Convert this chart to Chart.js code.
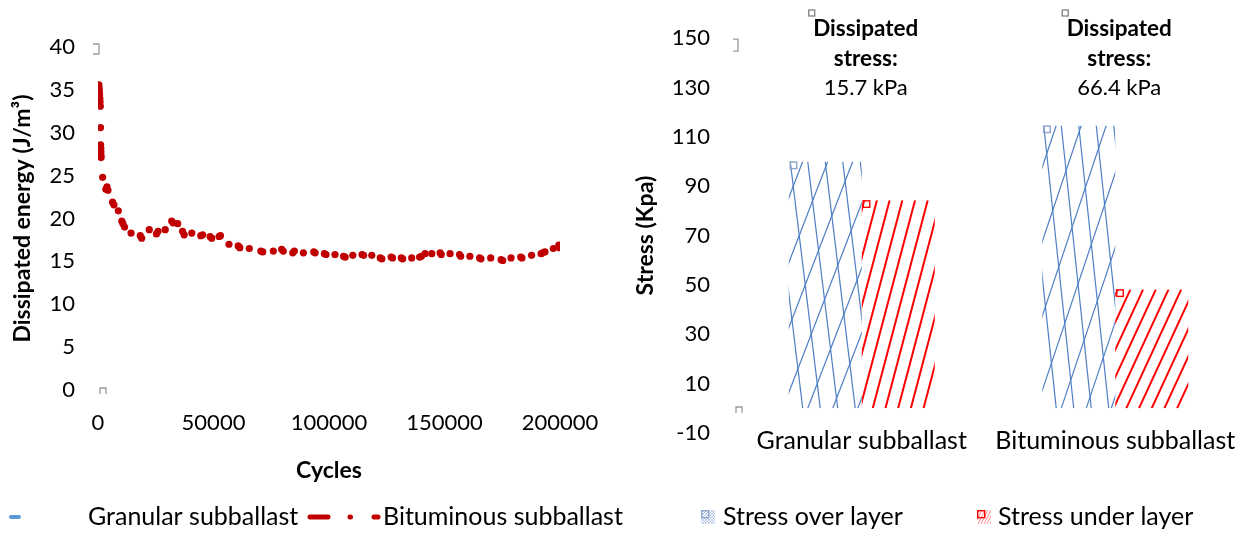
<!DOCTYPE html>
<html>
<head>
<meta charset="utf-8">
<script src="https://cdn.jsdelivr.net/npm/chart.js@4"></script>
<style>
html, body { margin: 0; padding: 0; background: #fff; }
body { width: 1245px; height: 533px; position: relative; overflow: hidden; }
#energyChart { position: absolute; left: 0; top: 0; width: 640px; height: 533px; }
#stressChart { position: absolute; left: 615px; top: 0; width: 630px; height: 533px; }
</style>
</head>
<body>
<canvas id="energyChart" width="640" height="533"></canvas>
<canvas id="stressChart" width="630" height="533"></canvas>
<script>
// left chart: dissipated energy per cycle
const cycles = [400, 500, 600, 700, 800, 900, 1000, 1100, 1150, 1200, 1250, 1300, 1350,
  2000, 3400, 3900, 4300, 6300, 6900, 8800, 10300, 10800, 11500, 14300, 18300, 18900,
  22200, 25300, 26000, 29100, 31900, 32500, 34500, 36600, 37300, 40600, 44500, 45300,
  48500, 49200, 52400, 53000, 56700, 60700, 61400, 65500, 70500, 71300, 75900, 79500,
  80200, 84300, 85000, 88900, 93400, 94000, 98000, 98700, 102600, 106300, 107000, 110300,
  114300, 115000, 118500, 122200, 122900, 126900, 127500, 131300, 131900, 135800, 139200,
  140000, 141600, 144500, 148100, 148600, 152400, 156500, 157000, 161000, 165200, 165800,
  170000, 174500, 175200, 178800, 183000, 183500, 187700, 191800, 192500, 193500, 197100,
  199500, 199800];
const bituminousEnergy = [35.6, 35.2, 34.8, 34.4, 34.0, 33.6, 33.1, 30.6, 28.6, 28.2, 27.8, 27.4, 27.1,
  24.8, 23.4, 23.7, 23.3, 21.9, 21.6, 20.9, 19.7, 19.4, 19.0, 18.3, 18.0, 17.7,
  18.7, 18.2, 18.5, 18.7, 19.7, 19.5, 19.4, 18.5, 18.1, 18.3, 18.0, 18.1,
  17.9, 17.7, 17.9, 18.0, 17.0, 16.8, 16.6, 16.5, 16.2, 16.1, 16.2, 16.4,
  16.2, 16.0, 16.2, 16.0, 16.1, 16.0, 15.9, 15.8, 15.8, 15.6, 15.5, 15.7,
  15.8, 15.7, 15.7, 15.4, 15.3, 15.5, 15.4, 15.4, 15.3, 15.4, 15.5,
  15.6, 15.9, 15.9, 16.0, 15.8, 15.9, 15.8, 15.6, 15.6, 15.4, 15.3,
  15.4, 15.2, 15.1, 15.4, 15.5, 15.4, 15.7, 15.9, 16.0, 16.1, 16.5,
  16.9, 16.6];
const granularEnergy = [];
const energyTicks = [0, 5, 10, 15, 20, 25, 30, 35, 40];
const cycleTicks = [0, 50000, 100000, 150000, 200000];

// right chart: stress over / under the subballast layer
const layers = ['Granular subballast', 'Bituminous subballast'];
const stressOver = [100.0, 114.6];
const stressUnder = [84.3, 48.2];
const stressTicks = [-10, 10, 30, 50, 70, 90, 110, 130, 150];

const FONT = 'Lato';
const TXT = '#000';
const tickFont = { family: FONT, size: 22 };
const titleFont = { family: FONT, size: 23, weight: 'bold' };

function bracket(ctx, pts) {
  ctx.beginPath();
  ctx.moveTo(pts[0][0], pts[0][1]);
  for (let k = 1; k < pts.length; k++) ctx.lineTo(pts[k][0], pts[k][1]);
  ctx.stroke();
}

const energyExtras = {
  id: 'energyExtras',
  afterDraw(chart) {
    const ctx = chart.ctx;
    const a = chart.chartArea;
    ctx.save();
    // little marker leftovers at the axis ends
    ctx.strokeStyle = '#9a9a9a';
    ctx.lineWidth = 1.3;
    bracket(ctx, [[a.left - 5, a.top - 3], [a.left + 1, a.top - 3], [a.left + 1, a.top + 7], [a.left - 5, a.top + 7]]);
    bracket(ctx, [[a.left + 2, a.bottom + 4], [a.left + 2, a.bottom - 2], [a.left + 8, a.bottom - 2], [a.left + 8, a.bottom + 4]]);

    // legend
    const ds = chart.data.datasets;
    const y = 517;
    ctx.font = '25px ' + FONT;
    ctx.textBaseline = 'middle';
    ctx.fillStyle = TXT;
    ctx.lineCap = 'round';
    ctx.strokeStyle = '#5b9bd5';
    ctx.lineWidth = 4;
    ctx.beginPath(); ctx.moveTo(11, y); ctx.lineTo(19, y); ctx.stroke();
    ctx.fillText(ds[0].label, 88, y);
    ctx.strokeStyle = '#c00000';
    ctx.lineWidth = 5;
    ctx.beginPath(); ctx.moveTo(310, y); ctx.lineTo(328, y); ctx.stroke();
    ctx.beginPath(); ctx.moveTo(350, y); ctx.lineTo(350.5, y); ctx.stroke();
    ctx.beginPath(); ctx.moveTo(374, y); ctx.lineTo(378, y); ctx.stroke();
    ctx.fillText(ds[1].label, 383, y);
    ctx.restore();
  }
};

new Chart(document.getElementById('energyChart'), {
  type: 'scatter',
  data: {
    datasets: [
      {
        label: 'Granular subballast',
        data: granularEnergy,
        backgroundColor: '#5b9bd5',
        pointRadius: 3.5,
        borderWidth: 0
      },
      {
        label: 'Bituminous subballast',
        data: cycles.map((c, i) => ({ x: c, y: bituminousEnergy[i] })),
        backgroundColor: '#c00000',
        pointRadius: 3.6,
        borderWidth: 0
      }
    ]
  },
  options: {
    responsive: false,
    animation: false,
    layout: { padding: { left: 0, right: 80, top: 47, bottom: 43 } },
    plugins: { legend: { display: false }, tooltip: { enabled: false } },
    scales: {
      x: {
        type: 'linear',
        min: 0,
        max: 200000,
        grid: { display: false, drawTicks: false },
        border: { display: false },
        afterBuildTicks: s => { s.ticks = cycleTicks.map(v => ({ value: v })); },
        afterFit: s => { s.height = 100; },
        ticks: { font: tickFont, color: TXT, padding: 20, maxRotation: 0, autoSkip: false, callback: v => String(v) },
        title: { display: true, text: 'Cycles', font: titleFont, color: TXT, padding: { top: 0, bottom: 6 } }
      },
      y: {
        min: 0,
        max: 40,
        grid: { display: false, drawTicks: false },
        border: { display: false },
        afterBuildTicks: s => { s.ticks = energyTicks.map(v => ({ value: v })); },
        afterFit: s => { s.width = 98; },
        ticks: { font: tickFont, color: TXT, padding: 23, autoSkip: false },
        title: { display: true, text: 'Dissipated energy (J/m³)', font: titleFont, color: TXT, padding: { top: 9, bottom: 0 } }
      }
    }
  },
  plugins: [energyExtras]
});

// stretched hatch fills, one per bar
const patternCache = {};
function barGeometry(chart, datasetIndex, index, value) {
  const xs = chart.scales.x, ys = chart.scales.y;
  const cat = xs.width / chart.data.labels.length;
  const group = cat * 0.576;
  const left = xs.getPixelForValue(index) - group / 2 + datasetIndex * group / 2;
  const top = ys.getPixelForValue(value);
  const base = ys.getPixelForValue(0);
  return { left, top, w: group / 2, h: base - top };
}
function hatch(context, kind) {
  if (context.type !== 'data') return kind === 'over' ? '#4472c4' : '#ff0000';
  const chart = context.chart;
  const g = barGeometry(chart, context.datasetIndex, context.dataIndex, context.raw);
  const key = kind + context.dataIndex + ':' + Math.round(g.left) + ':' + Math.round(g.top);
  if (patternCache[key]) return patternCache[key];
  const c = document.createElement('canvas');
  c.width = chart.canvas.width;
  c.height = chart.canvas.height;
  const p = c.getContext('2d');
  const B = g.top + g.h;
  if (kind === 'over') {
    p.strokeStyle = '#4f7fc4';
    p.lineWidth = 1.2;
    for (let a = -200; a < g.w + 200; a += 17.5) {
      p.beginPath(); p.moveTo(g.left + 9 + a, g.top); p.lineTo(g.left + 9 + a + 30, B); p.stroke();
    }
    for (let b = -200; b < g.w + 200; b += 25) {
      p.beginPath(); p.moveTo(g.left + 14 + b, g.top); p.lineTo(g.left + 14 + b - 95, B); p.stroke();
    }
  } else {
    p.strokeStyle = '#ff0000';
    p.lineWidth = 2;
    for (let a = -200; a < g.w + 200; a += 12.7) {
      p.beginPath(); p.moveTo(g.left + 12 + a, g.top); p.lineTo(g.left + 12 + a - 55, B); p.stroke();
    }
  }
  const pat = chart.ctx.createPattern(c, 'no-repeat');
  patternCache[key] = pat;
  return pat;
}

function legendIcon(ctx, x, y, kind) {
  ctx.save();
  ctx.beginPath(); ctx.rect(x, y, 14, 14); ctx.clip();
  ctx.lineWidth = 1;
  if (kind === 'over') {
    ctx.strokeStyle = 'rgba(79,127,196,0.35)';
    for (let a = -14; a < 28; a += 3) {
      ctx.beginPath(); ctx.moveTo(x + a, y); ctx.lineTo(x + a + 14, y + 14); ctx.stroke();
      ctx.beginPath(); ctx.moveTo(x + a, y + 14); ctx.lineTo(x + a + 14, y); ctx.stroke();
    }
  } else {
    ctx.strokeStyle = 'rgba(255,0,0,0.45)';
    for (let a = -14; a < 28; a += 3) {
      ctx.beginPath(); ctx.moveTo(x + a, y + 14); ctx.lineTo(x + a + 7, y); ctx.stroke();
    }
  }
  ctx.restore();
  ctx.save();
  ctx.lineWidth = 1.4;
  ctx.strokeStyle = kind === 'over' ? '#8ea6c9' : '#ff0000';
  ctx.strokeRect(x + 0.7, y + 0.7, 7, 7);
  ctx.restore();
}

const stressExtras = {
  id: 'stressExtras',
  afterDraw(chart) {
    const ctx = chart.ctx;
    const xs = chart.scales.x;
    const a = chart.chartArea;
    ctx.save();
    ctx.fillStyle = TXT;
    ctx.textAlign = 'center';
    ctx.textBaseline = 'middle';
    chart.data.labels.forEach((lab, i) => {
      const px = xs.getPixelForValue(i);
      const cx = px + 4;
      const diff = (stressOver[i] - stressUnder[i]).toFixed(1);
      ctx.font = 'bold 22.5px ' + FONT;
      ctx.fillText('Dissipated', cx, 29);
      ctx.fillText('stress:', cx, 59);
      ctx.font = '22px ' + FONT;
      ctx.fillText(diff + ' kPa', cx, 88);
      ctx.strokeStyle = '#7f7f7f';
      ctx.lineWidth = 1.3;
      ctx.strokeRect(cx - 57, 10, 6, 6);
      // category label, drawn here so it can sit close to the plot bottom
      ctx.font = '25px ' + FONT;
      ctx.fillText(lab, px, 441);
    });
    // small markers at each bar's corner
    chart.data.datasets.forEach((ds, di) => {
      chart.getDatasetMeta(di).data.forEach(el => {
        const left = el.x - el.width / 2;
        ctx.strokeStyle = di === 0 ? '#8ea6c9' : '#ff0000';
        ctx.lineWidth = 1.4;
        ctx.strokeRect(left + 1.5, el.y + 0.5, 6.5, 6.5);
      });
    });
    ctx.strokeStyle = '#9a9a9a';
    ctx.lineWidth = 1.3;
    bracket(ctx, [[a.left - 2, a.top + 1], [a.left + 3, a.top + 1], [a.left + 3, a.top + 13], [a.left - 2, a.top + 13]]);
    bracket(ctx, [[a.left + 1, a.bottom - 20], [a.left + 1, a.bottom - 26], [a.left + 7, a.bottom - 26], [a.left + 7, a.bottom - 20]]);

    // legend
    const y = 517;
    ctx.textAlign = 'left';
    ctx.font = '25px ' + FONT;
    ctx.fillStyle = TXT;
    legendIcon(ctx, 701 - 615, 510, 'over');
    ctx.fillText(chart.data.datasets[0].label, 723 - 615, y);
    legendIcon(ctx, 977 - 615, 510, 'under');
    ctx.fillText(chart.data.datasets[1].label, 998 - 615, y);
    ctx.restore();
  }
};

new Chart(document.getElementById('stressChart'), {
  type: 'bar',
  data: {
    labels: layers,
    datasets: [
      {
        label: 'Stress over layer',
        data: stressOver,
        backgroundColor: c => hatch(c, 'over'),
        borderWidth: 0
      },
      {
        label: 'Stress under layer',
        data: stressUnder,
        backgroundColor: c => hatch(c, 'under'),
        borderWidth: 0
      }
    ]
  },
  options: {
    responsive: false,
    animation: false,
    datasets: { bar: { barPercentage: 1, categoryPercentage: 0.576 } },
    layout: { padding: { left: 0, right: 3, top: 34, bottom: 50 } },
    plugins: { legend: { display: false }, tooltip: { enabled: false } },
    scales: {
      x: {
        grid: { display: false, drawTicks: false },
        border: { display: false },
        afterFit: s => { s.height = 50; },
        ticks: { display: false }
      },
      y: {
        min: -10,
        max: 150,
        grid: { display: false, drawTicks: false },
        border: { display: false },
        afterBuildTicks: s => { s.ticks = stressTicks.map(v => ({ value: v })); },
        afterFit: s => { s.width = 120; },
        ticks: { font: tickFont, color: TXT, padding: 25, autoSkip: false },
        title: { display: true, text: 'Stress (Kpa)', font: titleFont, color: TXT, padding: { top: 17, bottom: 0 } }
      }
    }
  },
  plugins: [stressExtras]
});
</script>
</body>
</html>
